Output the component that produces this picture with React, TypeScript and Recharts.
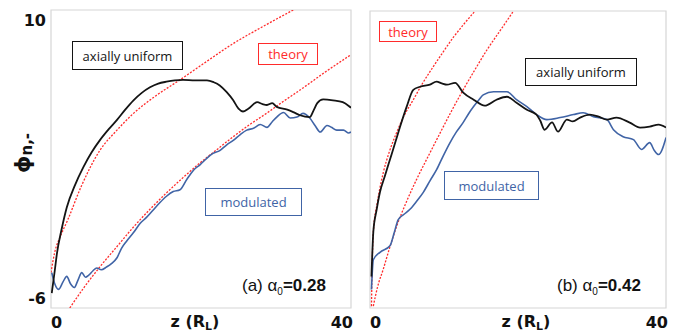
import React from "react";
import { LineChart, Line, XAxis, YAxis, ReferenceArea } from "recharts";

// left panel (a) alpha0 = 0.28
const aUniform = [
  { x: 0.1, y: -5.2 }, { x: 0.5, y: -4.0 }, { x: 0.8, y: -3.05 }, { x: 1.4, y: -1.8 },
  { x: 2.1, y: -0.6 }, { x: 3.2, y: 0.6 }, { x: 4.3, y: 1.55 }, { x: 5.4, y: 2.35 },
  { x: 6.5, y: 3.0 }, { x: 7.7, y: 3.6 }, { x: 8.8, y: 4.1 }, { x: 9.9, y: 4.65 },
  { x: 11, y: 5.15 }, { x: 12.1, y: 5.55 }, { x: 13.2, y: 5.85 }, { x: 14.3, y: 6.05 },
  { x: 15.4, y: 6.15 }, { x: 16.5, y: 6.22 }, { x: 17.6, y: 6.25 }, { x: 19.2, y: 6.22 },
  { x: 20.8, y: 6.22 }, { x: 21.7, y: 6.12 }, { x: 22.5, y: 5.95 }, { x: 23.4, y: 5.6 },
  { x: 24.3, y: 5.15 }, { x: 25.0, y: 4.7 }, { x: 25.6, y: 4.55 }, { x: 26.3, y: 4.7 },
  { x: 27.5, y: 5.05 }, { x: 28.2, y: 4.95 }, { x: 28.8, y: 4.9 }, { x: 29.5, y: 5.0 },
  { x: 30.1, y: 4.8 }, { x: 31.5, y: 4.65 }, { x: 32.4, y: 4.5 }, { x: 33.2, y: 4.35 },
  { x: 34.5, y: 4.25 }, { x: 35.0, y: 4.6 }, { x: 35.5, y: 5.0 }, { x: 36.3, y: 5.2 },
  { x: 37.6, y: 5.15 }, { x: 38.9, y: 5.05 }, { x: 39.7, y: 4.85 }, { x: 40, y: 4.75 },
];

const aModulated = [
  { x: 0.1, y: -4.1 }, { x: 0.5, y: -4.7 }, { x: 1.0, y: -5.0 }, { x: 1.6, y: -4.6 },
  { x: 2.1, y: -4.3 }, { x: 2.6, y: -4.7 }, { x: 3.1, y: -4.9 }, { x: 3.6, y: -4.5 },
  { x: 4.1, y: -4.1 }, { x: 4.6, y: -4.35 }, { x: 5.0, y: -4.25 }, { x: 5.6, y: -4.0 },
  { x: 6.1, y: -3.85 }, { x: 6.7, y: -3.95 }, { x: 7.4, y: -3.8 }, { x: 8.1, y: -3.6 },
  { x: 8.8, y: -3.3 }, { x: 9.4, y: -2.8 }, { x: 10.1, y: -2.4 }, { x: 11.0, y: -1.95 },
  { x: 11.9, y: -1.45 }, { x: 12.7, y: -1.15 }, { x: 13.6, y: -0.75 }, { x: 14.5, y: -0.35 },
  { x: 15.4, y: 0.0 }, { x: 16.3, y: 0.25 }, { x: 17.2, y: 0.35 }, { x: 18.1, y: 0.9 },
  { x: 19.0, y: 1.4 }, { x: 19.9, y: 1.7 }, { x: 20.8, y: 2.05 }, { x: 21.6, y: 2.3 },
  { x: 22.5, y: 2.45 }, { x: 23.4, y: 2.75 }, { x: 24.3, y: 3.0 }, { x: 25.2, y: 3.3 },
  { x: 26.1, y: 3.55 }, { x: 27.0, y: 3.65 }, { x: 27.9, y: 3.85 }, { x: 28.8, y: 3.7 },
  { x: 29.5, y: 4.0 }, { x: 30.1, y: 4.25 }, { x: 31.0, y: 4.5 }, { x: 31.9, y: 4.2 },
  { x: 32.8, y: 4.25 }, { x: 33.6, y: 4.45 }, { x: 34.5, y: 4.2 }, { x: 35.2, y: 3.8 },
  { x: 35.9, y: 3.45 }, { x: 36.8, y: 3.8 }, { x: 37.4, y: 3.7 }, { x: 38.1, y: 3.55 },
  { x: 39.0, y: 3.55 }, { x: 39.7, y: 3.4 }, { x: 40, y: 3.45 },
];

const aTheory1 = [
  { x: 0, y: -4.1 }, { x: 0.5, y: -3.0 }, { x: 1.2, y: -2.2 }, { x: 2.2, y: -1.3 },
  { x: 4.0, y: 0.5 }, { x: 6.5, y: 2.45 }, { x: 8.8, y: 3.55 }, { x: 11, y: 4.45 },
  { x: 14, y: 5.4 }, { x: 17.2, y: 6.25 }, { x: 20.8, y: 7.25 }, { x: 24.3, y: 8.2 },
  { x: 28.2, y: 9.1 }, { x: 32.3, y: 10 },
];

const aTheory2 = [
  { x: 2.5, y: -6 }, { x: 4.4, y: -4.9 }, { x: 6.5, y: -3.8 }, { x: 8.8, y: -2.7 },
  { x: 11, y: -1.65 }, { x: 13.2, y: -0.7 }, { x: 15.4, y: 0.18 }, { x: 17.6, y: 1.0 },
  { x: 19.9, y: 1.8 }, { x: 22.1, y: 2.5 }, { x: 24.3, y: 3.2 }, { x: 26.5, y: 3.85 },
  { x: 28.8, y: 4.47 }, { x: 31, y: 5.1 }, { x: 33.2, y: 5.7 }, { x: 36.5, y: 6.65 },
  { x: 40, y: 7.6 },
];

// right panel (b) alpha0 = 0.42
const bUniform = [
  { x: 0.2, y: -4.3 }, { x: 0.45, y: -1.9 }, { x: 0.9, y: -0.7 }, { x: 1.35, y: 0.25 },
  { x: 2.0, y: 1.1 }, { x: 2.7, y: 2.0 }, { x: 3.4, y: 2.9 }, { x: 4.05, y: 3.75 },
  { x: 4.96, y: 4.85 }, { x: 5.85, y: 5.75 }, { x: 6.76, y: 5.92 }, { x: 8.1, y: 6.03 },
  { x: 9.0, y: 6.19 }, { x: 9.7, y: 6.1 }, { x: 10.4, y: 6.03 }, { x: 11.5, y: 6.13 },
  { x: 12.6, y: 5.6 }, { x: 14.0, y: 5.22 }, { x: 15.5, y: 4.9 }, { x: 17.1, y: 5.22 },
  { x: 18.5, y: 5.38 }, { x: 19.8, y: 5.06 }, { x: 21.2, y: 4.68 }, { x: 22.5, y: 4.42 },
  { x: 23.0, y: 4.1 }, { x: 23.6, y: 3.6 }, { x: 24.6, y: 4.0 }, { x: 25.4, y: 3.5 },
  { x: 26.6, y: 4.15 }, { x: 27.4, y: 4.05 }, { x: 28.4, y: 4.26 }, { x: 29.7, y: 4.42 },
  { x: 30.9, y: 4.31 }, { x: 32.0, y: 4.15 }, { x: 33.3, y: 4.26 }, { x: 35.1, y: 3.99 },
  { x: 36.5, y: 3.72 }, { x: 37.8, y: 3.77 }, { x: 39.0, y: 3.88 }, { x: 40, y: 3.72 },
];

const bModulated = [
  { x: 0.2, y: -5.0 }, { x: 0.45, y: -3.4 }, { x: 1.35, y: -3.0 }, { x: 2.7, y: -2.65 },
  { x: 3.3, y: -1.9 }, { x: 3.8, y: -1.25 }, { x: 4.6, y: -0.95 }, { x: 5.4, y: -0.68 },
  { x: 6.3, y: -0.25 }, { x: 7.2, y: 0.23 }, { x: 8.1, y: 0.85 }, { x: 9.0, y: 1.45 },
  { x: 9.9, y: 2.2 }, { x: 10.8, y: 2.9 }, { x: 11.7, y: 3.5 }, { x: 12.6, y: 4.0 },
  { x: 13.3, y: 4.45 }, { x: 14.0, y: 4.85 }, { x: 14.7, y: 5.2 }, { x: 15.3, y: 5.48 },
  { x: 16.7, y: 5.65 }, { x: 18.5, y: 5.65 }, { x: 19.8, y: 5.22 }, { x: 21.2, y: 4.85 },
  { x: 22.5, y: 4.42 }, { x: 23.9, y: 4.15 }, { x: 25.7, y: 4.26 }, { x: 27.5, y: 4.42 },
  { x: 28.8, y: 4.52 }, { x: 30.2, y: 4.31 }, { x: 32.0, y: 4.15 }, { x: 32.9, y: 3.6 },
  { x: 34.2, y: 3.23 }, { x: 35.6, y: 3.07 }, { x: 36.7, y: 2.54 }, { x: 37.8, y: 2.91 },
  { x: 38.4, y: 2.5 }, { x: 39.0, y: 2.27 }, { x: 40, y: 3.18 },
];

const bTheory1 = [
  { x: 0.2, y: -5.9 }, { x: 0.3, y: -3.6 }, { x: 0.45, y: -1.9 }, { x: 1.0, y: -0.3 },
  { x: 1.8, y: 1.3 }, { x: 2.6, y: 2.4 }, { x: 3.6, y: 3.45 }, { x: 4.6, y: 4.35 },
  { x: 5.85, y: 5.22 }, { x: 7.1, y: 6.1 }, { x: 8.55, y: 7.0 }, { x: 9.9, y: 7.8 },
  { x: 11.3, y: 8.6 }, { x: 12.7, y: 9.3 }, { x: 14.2, y: 10 },
];

const bTheory2 = [
  { x: 0.45, y: -5.9 }, { x: 1.0, y: -4.9 }, { x: 1.8, y: -3.9 }, { x: 2.7, y: -2.7 },
  { x: 3.6, y: -1.6 }, { x: 4.9, y: -0.3 }, { x: 6.3, y: 0.93 }, { x: 7.9, y: 2.2 },
  { x: 9.5, y: 3.45 }, { x: 11.0, y: 4.6 }, { x: 12.6, y: 5.76 }, { x: 14.2, y: 6.85 },
  { x: 15.8, y: 7.9 }, { x: 17.6, y: 8.95 }, { x: 19.4, y: 10 },
];

const xTicks = [0, 40];
const yTicks = [-6, 10];

const BLACK = "#141414";
const BLUE = "#4064a6";
const RED = "#ff2b2b";
const FRAME = "#d6d6d6";
const TICK_FONT = "'DejaVu Sans', sans-serif";
const NOTE_FONT = "'Open Sans', sans-serif";

const XTick = (props: any) => {
  const { x, y, payload } = props;
  const first = payload.value === xTicks[0];
  return (
    <text x={first ? x : x + 2} y={y + 12} textAnchor={first ? "start" : "end"}
      fontFamily={TICK_FONT} fontWeight="bold" fontSize={16} fill="#111">
      {payload.value}
    </text>
  );
};

const YTick = (props: any) => {
  const { x, y, payload } = props;
  const top = payload.value === yTicks[1];
  return (
    <text x={x + 3} y={top ? y + 16 : y - 4} textAnchor="end"
      fontFamily={TICK_FONT} fontWeight="bold" fontSize={16} fill="#111">
      {payload.value}
    </text>
  );
};

const ZLabel = (shift: number) => (props: any) => {
  const vb = props.viewBox || {};
  const cx = vb.x + vb.width / 2 + shift;
  return (
    <text x={cx} y={vb.y + 19} textAnchor="middle" fontFamily={TICK_FONT}
      fontWeight="bold" fontSize={16} fill="#111">
      z (R<tspan fontSize={11} dy={3}>L</tspan><tspan dy={-3}>)</tspan>
    </text>
  );
};

const boxStyle = (color: string, left: number, top: number, width: number, height: number): React.CSSProperties => ({
  position: "absolute", left, top, width, height, boxSizing: "border-box",
  border: `1.5px solid ${color}`, color, fontFamily: NOTE_FONT, fontSize: 13,
  display: "flex", alignItems: "center", justifyContent: "center", background: "white",
  whiteSpace: "nowrap",
});

const Panel = ({ uniform, modulated, t1, t2, width, margin, showY, zShift }: any) => (
  <LineChart width={width} height={336} margin={margin}>
    <XAxis type="number" dataKey="x" domain={[0, 40]} ticks={xTicks} allowDataOverflow
      axisLine={false} tickLine={false} tick={<XTick />} height={28} interval={0}
      label={{ content: ZLabel(zShift) }} />
    <YAxis type="number" dataKey="y" domain={[-6, 10]} ticks={yTicks} allowDataOverflow
      axisLine={false} tickLine={false} tick={showY ? <YTick /> : false} width={showY ? 51 : 10}
      interval={0} />
    <ReferenceArea x1={0} x2={40} y1={-6} y2={10} fill="none" stroke={FRAME} strokeWidth={1.2} />
    <Line data={t1} dataKey="y" type="monotone" stroke={RED} strokeWidth={1.3}
      strokeDasharray="2 1.5" dot={false} isAnimationActive={false} />
    <Line data={t2} dataKey="y" type="monotone" stroke={RED} strokeWidth={1.3}
      strokeDasharray="2 1.5" dot={false} isAnimationActive={false} />
    <Line data={modulated} dataKey="y" type="monotone" stroke={BLUE} strokeWidth={1.6}
      dot={false} isAnimationActive={false} />
    <Line data={uniform} dataKey="y" type="monotone" stroke={BLACK} strokeWidth={1.8}
      dot={false} isAnimationActive={false} />
  </LineChart>
);

const Alpha = ({ tag, value }: { tag: string; value: string }) => (
  <span style={{ fontFamily: "'Liberation Sans', Arial, sans-serif", fontSize: 17, color: "#111" }}>
    {tag} <span>α<sub style={{ fontSize: 10 }}>0</sub></span>
    <b>={value}</b>
  </span>
);

export default function App() {
  return (
    <div style={{ position: "absolute", left: 0, top: 0, width: 693, height: 336, background: "white", overflow: "hidden" }}>
      <div style={{ position: "absolute", left: 0, top: 0 }}>
        <Panel uniform={aUniform} modulated={aModulated} t1={aTheory1} t2={aTheory2}
          width={360} margin={{ top: 10, right: 9, bottom: 0, left: 0 }} showY zShift={-6} />
      </div>
      <div style={{ position: "absolute", left: 360, top: 0 }}>
        <Panel uniform={bUniform} modulated={bModulated} t1={bTheory1} t2={bTheory2}
          width={333} margin={{ top: 11, right: 27, bottom: 0, left: 0 }} showY={false} zShift={8} />
      </div>

      <svg style={{ position: "absolute", left: 0, top: 0 }} width={48} height={336}>
        <text x={22} y={153} transform="rotate(-90 22 153)" textAnchor="middle"
          dominantBaseline="central" fontFamily={TICK_FONT} fontWeight="bold" fontSize={22} fill="#111">
          ϕ<tspan fontSize={15} dy={5}>n,-</tspan>
        </text>
      </svg>

      <div style={boxStyle(BLACK, 72, 41, 111, 29)}>axially uniform</div>
      <div style={boxStyle(RED, 258, 43, 60, 22)}>theory</div>
      <div style={boxStyle(BLUE, 205, 188, 97, 28)}>modulated</div>
      <div style={{ position: "absolute", left: 242, top: 276 }}>
        <Alpha tag="(a)" value="0.28" />
      </div>

      <div style={boxStyle(RED, 379, 21, 58, 21)}>theory</div>
      <div style={boxStyle(BLACK, 525, 58, 112, 28)}>axially uniform</div>
      <div style={boxStyle(BLUE, 444, 171, 95, 29)}>modulated</div>
      <div style={{ position: "absolute", left: 557, top: 276 }}>
        <Alpha tag="(b)" value="0.42" />
      </div>
    </div>
  );
}
